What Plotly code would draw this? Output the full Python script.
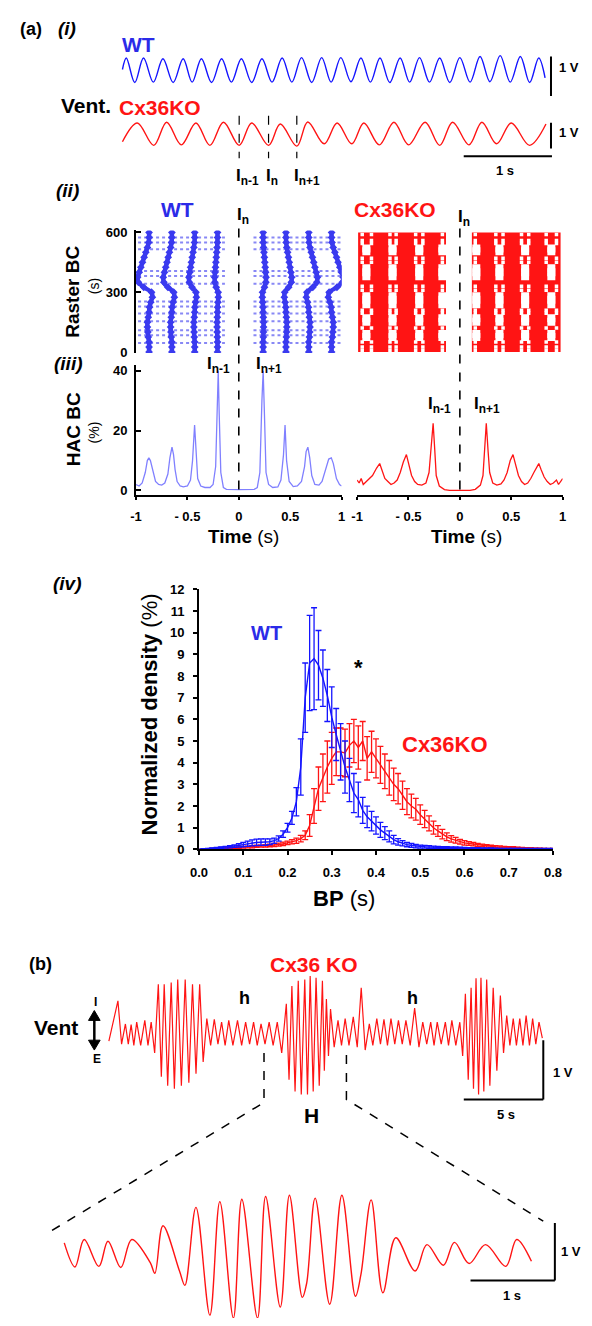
import plotly.graph_objects as go

W, H = 592, 1326
FONT = "Liberation Sans, Arial, Helvetica, sans-serif"
BLACK = "#000000"
BLUE = "#1414ff"
TEXT_BLUE = "#2b2be8"
RED = "#ff1414"
HAC_BLUE = "#8080ff"
RASTER_BLUE = "#3a3aef"

# ======================= DATA =======================
# (a)(i) ventral root traces: extrema (time s, volts)
wt_peak_t = [0.044, 0.239, 0.459, 0.688, 0.895, 1.124, 1.348, 1.581, 1.810, 2.030, 2.258,
             2.475, 2.703, 2.919, 3.147, 3.367, 3.596, 3.824, 4.053, 4.281, 4.510, 4.718]
wt_peak_v = [0.31, 0.31, 0.29, 0.29, 0.29, 0.29, 0.29, 0.29, 0.31, 0.32, 0.32,
             0.32, 0.31, 0.31, 0.31, 0.32, 0.31, 0.32, 0.35, 0.37, 0.35, 0.31]
wt_trough_t = [0.0, 0.14, 0.35, 0.575, 0.79, 1.01, 1.235, 1.465, 1.695, 1.92, 2.145, 2.365,
               2.59, 2.81, 3.03, 3.255, 3.48, 3.71, 3.94, 4.165, 4.395, 4.615, 4.79]
wt_trough_v = [0.02, -0.31, -0.30, -0.31, -0.30, -0.31, -0.30, -0.31, -0.30, -0.30, -0.31, -0.30,
               -0.29, -0.30, -0.31, -0.30, -0.30, -0.31, -0.30, -0.29, -0.30, -0.31, -0.19]

ko_peak_t = [0.168, 0.501, 0.833, 1.145, 1.465, 1.789, 2.10, 2.433, 2.736, 3.077, 3.43, 3.742, 4.074, 4.407]
ko_peak_v = [0.43, 0.46, 0.43, 0.46, 0.43, 0.39, 0.47, 0.43, 0.43, 0.46, 0.46, 0.46, 0.46, 0.43]
ko_trough_t = [0.0, 0.355, 0.667, 0.991, 1.323, 1.656, 1.976, 2.287, 2.599, 2.911, 3.243,
               3.596, 3.928, 4.240, 4.614, 4.80]
ko_trough_v = [-0.30, -0.44, -0.42, -0.44, -0.44, -0.44, -0.47, -0.38, -0.38, -0.42, -0.42,
               -0.44, -0.42, -0.38, -0.44, 0.39]
in_marks = [1.323, 1.656, 1.976]          # I(n-1), I(n), I(n+1)
in_labels = ["I<sub>n-1</sub>", "I<sub>n</sub>", "I<sub>n+1</sub>"]

# (ii) raster of burst cycles
raster_rows = [600, 575, 550, 525, 500, 475, 450, 425, 400, 375, 350, 325, 300,
               275, 250, 225, 200, 175, 150, 125, 100, 75, 50, 25, 0]
wt_period = [0.222, 0.222, 0.223, 0.226, 0.230, 0.234, 0.238, 0.242, 0.246, 0.250, 0.248, 0.235, 0.216,
             0.214, 0.218, 0.221, 0.222, 0.224, 0.226, 0.226, 0.225, 0.224, 0.222, 0.222, 0.222]
wt_band_k = [-4, -3, -2, -1, 1, 2, 3, 4]
wt_band_offset = 0.015
wt_streak_rows = [575, 550, 516, 407, 382, 342, 253, 228, 193, 154, 109, 84, 45]
wt_blocks = [[-0.98, -0.135], [0.143, 1.0]]

ko_blocks = [[-0.99, -0.135], [0.117, 0.98]]
ko_gap_t = [-0.91, -0.655, -0.395, -0.17, 0.16, 0.385, 0.635, 0.89]
ko_hole_rows = [520, 505, 420, 400, 380, 280, 262, 240, 170, 152, 90, 75]
ko_speck_t = [-0.95, -0.86, -0.68, -0.62, -0.43, -0.36, -0.17, 0.15, 0.35, 0.42, 0.60, 0.67, 0.84, 0.94]
ko_speck_rows = [590, 560, 545, 470, 450, 330, 310, 210, 195, 120, 50, 25, 8]

# (iii) HAC of burst cycles (%)
hac_wt_t = [-1.00, -0.97, -0.94, -0.91, -0.89, -0.875, -0.86, -0.84, -0.81, -0.78, -0.75, -0.72, -0.69,
            -0.67, -0.65, -0.635, -0.62, -0.60, -0.57, -0.54, -0.50, -0.47, -0.45, -0.43, -0.415,
            -0.40, -0.37, -0.33, -0.28, -0.25, -0.225, -0.21, -0.20, -0.19, -0.175, -0.15, -0.12,
            0.00, 0.15, 0.18, 0.205, 0.225, 0.237, 0.25, 0.265, 0.29, 0.33, 0.38, 0.41, 0.435,
            0.45, 0.465, 0.49, 0.53, 0.57, 0.61, 0.64, 0.655, 0.672, 0.69, 0.71, 0.74, 0.78,
            0.81, 0.85, 0.875, 0.90, 0.92, 0.95, 0.98, 1.00]
hac_wt_v = [2.0, 1.5, 2.5, 6.0, 10.0, 10.9, 10.0, 7.0, 3.0, 2.0, 1.8, 2.5, 5.5,
            11.0, 14.5, 12.0, 7.0, 3.0, 1.5, 1.2, 1.5, 3.5, 10.0, 21.9, 12.0,
            4.0, 1.5, 1.0, 1.0, 2.0, 8.0, 30.0, 39.9, 25.0, 6.0, 1.0, 0.4,
            0.3, 0.4, 1.0, 6.0, 30.0, 40.0, 25.0, 6.0, 2.0, 1.0, 1.2, 3.5, 12.0,
            21.9, 10.0, 3.0, 1.3, 1.5, 3.0, 8.0, 13.0, 14.5, 11.0, 5.0, 2.0, 1.8,
            3.0, 7.5, 10.5, 10.9, 9.0, 4.0, 2.0, 1.5]
hac_ko_t = [-1.00, -0.98, -0.96, -0.94, -0.91, -0.88, -0.85, -0.81, -0.78, -0.76, -0.73, -0.70, -0.67,
            -0.64, -0.61, -0.58, -0.55, -0.52, -0.50, -0.47, -0.44, -0.41, -0.37, -0.33, -0.30,
            -0.28, -0.26, -0.245, -0.23, -0.20, -0.15, -0.10, 0.00, 0.10, 0.15, 0.20, 0.225,
            0.24, 0.257, 0.275, 0.29, 0.32, 0.36, 0.40, 0.43, 0.46, 0.49, 0.517, 0.54, 0.57,
            0.60, 0.63, 0.66, 0.69, 0.72, 0.75, 0.768, 0.79, 0.82, 0.85, 0.88, 0.91, 0.94,
            0.96, 0.98, 1.00]
hac_ko_v = [3.5, 2.5, 4.0, 2.0, 3.0, 4.0, 5.0, 7.5, 9.0, 7.0, 4.0, 3.0, 2.0,
            2.5, 3.5, 6.0, 9.5, 12.0, 9.0, 5.0, 3.0, 2.0, 1.8, 2.5, 6.0,
            14.0, 22.5, 14.0, 5.0, 1.5, 0.3, 0.0, 0.0, 0.0, 0.4, 1.8, 5.0,
            14.0, 22.5, 13.0, 6.0, 2.5, 1.8, 2.2, 3.5, 6.0, 10.0, 12.0, 9.0, 5.0,
            3.0, 2.0, 2.5, 4.0, 6.0, 8.0, 9.0, 7.0, 4.5, 3.0, 2.0, 2.5, 3.5,
            2.0, 3.0, 4.0]

# (iv) burst period distribution (normalized density, %)
bp_bins = [round(i * 0.01, 2) for i in range(81)]
wt_mean = [0.00, 0.02, 0.03, 0.05, 0.06, 0.08, 0.10, 0.12, 0.15, 0.18,
           0.22, 0.26, 0.30, 0.32, 0.33, 0.33, 0.35, 0.40, 0.50, 0.70,
           1.00, 1.45, 2.20, 3.80, 7.00, 8.60, 8.80, 8.50, 7.90, 7.10,
           6.10, 5.30, 4.50, 3.80, 3.20, 2.60, 2.30, 1.80, 1.50, 1.30,
           1.10, 0.90, 0.75, 0.60, 0.45, 0.35, 0.28, 0.22, 0.18, 0.15,
           0.13, 0.12, 0.11, 0.10, 0.09, 0.08, 0.08, 0.07, 0.07, 0.06,
           0.06, 0.05, 0.05, 0.05, 0.04, 0.04, 0.04, 0.04, 0.03, 0.03,
           0.03, 0.03, 0.03, 0.03, 0.02, 0.02, 0.02, 0.02, 0.02, 0.02, 0.02]
wt_err = [0.00, 0.01, 0.02, 0.02, 0.03, 0.03, 0.04, 0.05, 0.06, 0.08,
          0.10, 0.12, 0.14, 0.15, 0.15, 0.15, 0.13, 0.12, 0.12, 0.15,
          0.20, 0.30, 0.65, 1.30, 1.60, 2.20, 2.35, 1.60, 1.30, 1.20,
          1.40, 1.20, 1.30, 1.20, 1.00, 0.90, 0.80, 0.60, 0.50, 0.45,
          0.40, 0.35, 0.30, 0.25, 0.20, 0.15, 0.12, 0.10, 0.09, 0.08,
          0.07, 0.06, 0.06, 0.05, 0.05, 0.05, 0.04, 0.04, 0.04, 0.04,
          0.03, 0.03, 0.03, 0.03, 0.03, 0.03, 0.03, 0.02, 0.02, 0.02,
          0.02, 0.02, 0.02, 0.02, 0.02, 0.02, 0.02, 0.02, 0.02, 0.02, 0.02]
ko_mean = [0.00, 0.01, 0.02, 0.03, 0.03, 0.04, 0.05, 0.06, 0.07, 0.08,
           0.10, 0.11, 0.12, 0.14, 0.15, 0.16, 0.18, 0.20, 0.22, 0.25,
           0.30, 0.35, 0.40, 0.50, 0.65, 1.10, 2.00, 2.80, 3.30, 3.80,
           4.20, 4.50, 4.50, 4.45, 4.80, 5.00, 4.70, 5.00, 4.20, 4.50,
           4.20, 3.90, 3.60, 3.30, 3.00, 2.80, 2.50, 2.20, 2.00, 1.85,
           1.60, 1.40, 1.20, 1.00, 0.85, 0.70, 0.58, 0.48, 0.42, 0.35,
           0.30, 0.27, 0.24, 0.21, 0.18, 0.16, 0.14, 0.12, 0.11, 0.10,
           0.09, 0.08, 0.07, 0.06, 0.05, 0.05, 0.04, 0.04, 0.03, 0.03, 0.03]
ko_err = [0.00, 0.01, 0.01, 0.02, 0.02, 0.02, 0.02, 0.03, 0.03, 0.03,
          0.04, 0.04, 0.05, 0.05, 0.05, 0.06, 0.06, 0.07, 0.07, 0.08,
          0.08, 0.10, 0.12, 0.15, 0.20, 0.50, 0.80, 1.00, 1.10, 1.20,
          1.20, 1.10, 1.10, 1.10, 1.00, 1.00, 1.00, 0.90, 1.00, 0.95,
          0.90, 0.85, 0.80, 0.80, 0.75, 0.70, 0.65, 0.60, 0.55, 0.50,
          0.45, 0.40, 0.35, 0.30, 0.25, 0.22, 0.18, 0.15, 0.13, 0.11,
          0.10, 0.09, 0.08, 0.07, 0.06, 0.06, 0.05, 0.05, 0.05, 0.04,
          0.04, 0.04, 0.03, 0.03, 0.03, 0.03, 0.02, 0.02, 0.02, 0.02, 0.02]

# (b) Cx36 KO ventral trace (overview): extrema (s, V)
b_peak_t = [0.57, 1.04, 1.40, 1.75, 2.26, 2.66, 3.11, 3.48, 3.92, 4.33, 4.80, 5.26, 5.71,
            6.16, 6.63, 7.09, 7.54, 8.09, 8.60, 9.10, 9.57, 10.08, 10.59, 11.16, 11.51,
            11.91, 12.32, 12.66, 13.03, 13.43, 13.68, 13.94, 14.41, 14.86, 15.37, 15.87,
            16.38, 16.85, 17.30, 17.74, 18.21, 18.68, 19.23, 19.74, 20.24, 20.65, 21.16,
            21.57, 22.07, 22.42, 22.78, 23.09, 23.40, 23.76, 24.17, 24.62, 25.02, 25.43,
            25.84, 26.24, 26.65, 27.05]
b_peak_v = [0.58, 0.19, 0.18, 0.22, 0.25, 0.22, 0.86, 0.86, 0.89, 0.94, 0.94, 0.86, 0.86,
            0.28, 0.27, 0.22, 0.25, 0.25, 0.22, 0.22, 0.19, 0.22, 0.22, 0.53, 0.83,
            0.92, 0.94, 1.00, 0.97, 0.92, 0.61, 0.44, 0.25, 0.28, 0.31, 0.80,
            0.19, 0.28, 0.27, 0.28, 0.25, 0.25, 0.46, 0.22, 0.22, 0.22, 0.22,
            0.25, 0.22, 0.70, 0.80, 0.96, 0.97, 0.94, 0.80, 0.67, 0.33, 0.28,
            0.28, 0.33, 0.28, 0.22]
b_trough_t = [0.0, 0.80, 1.22, 1.57, 2.00, 2.46, 2.88, 3.30, 3.70, 4.12, 4.56, 5.03, 5.48,
              5.93, 6.40, 6.86, 7.31, 7.80, 8.35, 8.85, 9.33, 9.82, 10.33, 10.87, 11.33,
              11.71, 12.10, 12.49, 12.85, 13.23, 13.55, 13.81, 14.17, 14.63, 15.10, 15.62,
              16.12, 16.60, 17.08, 17.52, 17.98, 18.45, 18.95, 19.50, 19.99, 20.45, 20.90,
              21.36, 21.82, 22.25, 22.60, 22.93, 23.25, 23.58, 23.96, 24.40, 24.82, 25.22,
              25.63, 26.04, 26.45, 26.85, 27.26]
b_trough_v = [-0.10, -0.15, -0.15, -0.17, -0.17, -0.17, -0.30, -0.70, -0.85, -0.90, -0.85, -0.80, -0.65,
              -0.45, -0.17, -0.15, -0.17, -0.17, -0.17, -0.15, -0.17, -0.15, -0.17, -0.30, -0.75,
              -0.95, -1.00, -1.00, -0.95, -0.85, -0.60, -0.35, -0.20, -0.17, -0.17, -0.20,
              -0.25, -0.17, -0.15, -0.17, -0.15, -0.15, -0.17, -0.20, -0.15, -0.17, -0.15,
              -0.17, -0.17, -0.35, -0.75, -0.90, -1.00, -0.95, -0.85, -0.60, -0.30, -0.17,
              -0.17, -0.17, -0.17, -0.15, -0.05]

# (b) expanded H episode: extrema (s, V)
h_t = [0.0, 0.127, 0.236, 0.41, 0.518, 0.67, 0.80, 1.018, 1.074, 1.17, 1.366, 1.43, 1.561,
       1.726, 1.844, 2.005, 2.105, 2.291, 2.387, 2.561, 2.669, 2.822, 2.874, 2.974, 3.147,
       3.291, 3.452, 3.517, 3.638, 3.777, 3.930, 4.160, 4.299, 4.494, 4.625, 4.799, 4.994,
       5.233, 5.363, 5.538]
h_v = [0.12, -0.30, 0.18, -0.29, 0.15, -0.31, 0.18, -0.22, -0.41, 0.42, -0.37, -0.62, 0.74,
       -1.14, 0.84, -1.19, 0.88, -1.19, 0.93, -1.00, 0.95, -0.83, -0.58, 0.90, -0.95,
       0.95, -0.81, -0.43, 0.87, -0.75, 0.21, -0.37, 0.09, -0.27, 0.13, -0.24, 0.09,
       -0.29, 0.18, -0.20]


# ======================= HELPERS =======================
def xp(px):
    return px / W


def yp(py):
    return 1 - py / H


def merge(t1, v1, t2, v2):
    pts = sorted(zip(list(t1) + list(t2), list(v1) + list(v2)))
    return [p[0] for p in pts], [p[1] for p in pts]


fig = go.Figure()
layout = dict(
    width=W, height=H, margin=dict(l=0, r=0, t=0, b=0),
    paper_bgcolor="white", plot_bgcolor="rgba(0,0,0,0)",
    showlegend=False, font=dict(family=FONT, color=BLACK),
)

TICKFONT = dict(family=FONT, size=13, color=BLACK, weight="bold")


def add_axes(n, xpx, ypx, xr, yr, xextra=None, yextra=None):
    s = "" if n == 1 else str(n)
    xa = dict(domain=[xp(xpx[0]), xp(xpx[1])], range=xr, visible=False,
              anchor="y" + s, showgrid=False, zeroline=False, fixedrange=True)
    ya = dict(domain=[yp(ypx[1]), yp(ypx[0])], range=yr, visible=False,
              anchor="x" + s, showgrid=False, zeroline=False, fixedrange=True)
    if xextra:
        xa.update(xextra)
    if yextra:
        ya.update(yextra)
    layout["xaxis" + s] = xa
    layout["yaxis" + s] = ya
    return "x" + s, "y" + s


AXSTYLE = dict(visible=True, showline=True, linecolor=BLACK, linewidth=2,
               ticks="outside", tickcolor=BLACK, tickwidth=2, ticklen=4,
               tickfont=TICKFONT)

# ---- axes ----
ax1 = add_axes(1, (110, 565), (40, 95), [(110 - 117) / 91, (565 - 117) / 91], [-0.775, 0.6])
ax2 = add_axes(2, (110, 565), (105, 160), [(110 - 117) / 91, (565 - 117) / 91],
               [(128.5 - 160) / 26, (128.5 - 105) / 26])
ax3 = add_axes(3, (131, 343), (226, 350), [-1, 1], [-5, 610],
               yextra=dict(AXSTYLE, ticks="inside", ticklen=5, tickvals=[0, 300, 600],
                           ticklabelstandoff=4))
ax4 = add_axes(4, (359, 571), (226, 350), [-1, 1], [-5, 610])
hac_x = dict(AXSTYLE, tickvals=[-1, -0.5, 0, 0.5, 1],
             ticktext=["-1", "- 0.5", "0", "0.5", "1"], ticklen=3, ticklabelstandoff=5)
ax5 = add_axes(5, (131, 343), (362, 494), [-1, 1], [-1.65, 42], xextra=hac_x,
               yextra=dict(AXSTYLE, ticks="inside", ticklen=5, tickvals=[0, 20, 40],
                           ticklabelstandoff=4))
ax6 = add_axes(6, (359, 571), (362, 494), [-1, 1], [-1.65, 42], xextra=hac_x)
ax7 = add_axes(7, (196, 561), (589, 852), [0, 0.8], [0, 12],
               xextra=dict(AXSTYLE, tickvals=[round(0.1 * i, 1) for i in range(9)],
                           tickformat=".1f", ticklabelstandoff=6),
               yextra=dict(AXSTYLE, tickvals=list(range(13)), ticklabelstandoff=6))
ax8 = add_axes(8, (100, 556), (975, 1110), [(100 - 103) / 16.4, (556 - 103) / 16.4],
               [(1040 - 1110) / 60, (1040 - 975) / 60])
ax9 = add_axes(9, (50, 575), (1190, 1326), [(50 - 57) / 87, (575 - 57) / 87],
               [(1257 - 1326) / 58, (1257 - 1190) / 58])


def tr(ax, **kw):
    fig.add_trace(go.Scatter(xaxis=ax[0], yaxis=ax[1], hoverinfo="skip", **kw))


# ---- (a)(i) traces ----
t, v = merge(wt_peak_t, wt_peak_v, wt_trough_t, wt_trough_v)
tr(ax1, x=t, y=v, mode="lines", line=dict(color=BLUE, width=1.4, shape="spline", smoothing=1.0))
t, v = merge(ko_peak_t, ko_peak_v, ko_trough_t, ko_trough_v)
tr(ax2, x=t, y=v, mode="lines", line=dict(color=RED, width=1.4, shape="spline", smoothing=1.0))

# ---- (ii) rasters ----
sx, sy = [], []
for r in wt_streak_rows:
    for b in wt_blocks:
        sx += [b[0], b[1], None]
        sy += [r, r, None]
tr(ax3, x=sx, y=sy, mode="lines", opacity=0.6,
   line=dict(color=RASTER_BLUE, width=2, dash="dot"))
for k in wt_band_k:
    xs = [k * p + wt_band_offset for p in wt_period]
    tr(ax3, x=xs, y=raster_rows, mode="lines+markers",
       line=dict(color=RASTER_BLUE, width=4.5, shape="spline", smoothing=0.8),
       marker=dict(color=RASTER_BLUE, size=6, symbol="diamond"))

for b in ko_blocks:
    tr(ax4, x=[b[0], b[1], b[1], b[0], b[0]], y=[0, 0, 600, 600, 0], mode="lines",
       fill="toself", fillcolor=RED, line=dict(width=0, color=RED))
hx, hy = [], []
for g in ko_gap_t:
    for r in ko_hole_rows:
        hx.append(g)
        hy.append(r)
tr(ax4, x=hx, y=hy, mode="markers", marker=dict(symbol="square", size=8, color="white"))
qx, qy = [], []
for g in ko_speck_t:
    for r in ko_speck_rows:
        qx.append(g)
        qy.append(r)
tr(ax4, x=qx, y=qy, mode="markers", marker=dict(symbol="square", size=3.5, color="white"))

# ---- (iii) HAC ----
tr(ax5, x=hac_wt_t, y=hac_wt_v, mode="lines", line=dict(color=HAC_BLUE, width=1.3))
tr(ax6, x=hac_ko_t, y=hac_ko_v, mode="lines", line=dict(color=RED, width=1.3))

# ---- (iv) BP density ----
tr(ax7, x=bp_bins, y=ko_mean, mode="lines", line=dict(color=RED, width=1.4),
   error_y=dict(type="data", array=ko_err, color=RED, thickness=1.3, width=3))
tr(ax7, x=bp_bins, y=wt_mean, mode="lines", line=dict(color=BLUE, width=1.4),
   error_y=dict(type="data", array=wt_err, color=BLUE, thickness=1.3, width=3))

# ---- (b) traces ----
t, v = merge(b_peak_t, b_peak_v, b_trough_t, b_trough_v)
tr(ax8, x=t, y=v, mode="lines", line=dict(color=RED, width=1.2))
tr(ax9, x=h_t, y=h_v, mode="lines", line=dict(color=RED, width=1.4, shape="spline", smoothing=1.0))

# ======================= SHAPES =======================
shapes = []


def sline(xref, yref, x0, y0, x1, y1, width=2, dash="solid", color=BLACK):
    shapes.append(dict(type="line", xref=xref, yref=yref, x0=x0, y0=y0, x1=x1, y1=y1,
                       line=dict(color=color, width=width, dash=dash)))


def ppath(points, close=False, fill=None, width=1.5, dash="solid"):
    d = "M " + " L ".join(f"{xp(a):.5f},{yp(b):.5f}" for a, b in points)
    if close:
        d += " Z"
    sh = dict(type="path", xref="paper", yref="paper", path=d,
              line=dict(color=BLACK, width=width, dash=dash))
    if fill:
        sh["fillcolor"] = fill
    shapes.append(sh)


# scale bars (a)(i)
sline("x", "y", 4.857, 0.35, 4.857, -0.65)
sline("x2", "y2", 4.857, 0.44, 4.857, -0.56)
sline("x2", "y2", 3.868, -0.865, 4.868, -0.865)
for m in in_marks:
    sline("x2", "y2", m, 0.71, m, -0.94, width=1.2, dash="dash")
# I_n dashed lines through raster + HAC
sline("x5", "paper", 0, yp(224), 0, yp(491), width=1.6, dash="dash")
sline("x6", "paper", 0, yp(224), 0, yp(491), width=1.6, dash="dash")
# (b) scale bars
sline("x8", "y8", 27.32, -0.083, 27.32, -1.083)
sline("x8", "y8", 22.32, -1.083, 27.32, -1.083)
sline("x9", "y9", 5.816, 0.4655, 5.816, -0.5345)
sline("x9", "y9", 4.816, -0.5345, 5.816, -0.5345)
# (b) zoom connectors
ppath([(263, 1058), (263, 1108), (40, 1240)], dash="dash")
ppath([(348, 1060), (348, 1105), (551, 1228)], dash="dash")
# Vent double-headed arrow (I up / E down)
ppath([(88, 1022), (88, 1048)], width=2.5)
ppath([(82, 1025), (94, 1025), (88, 1015)], close=True, fill=BLACK, width=1)
ppath([(82, 1045), (94, 1045), (88, 1055)], close=True, fill=BLACK, width=1)
layout["shapes"] = shapes

# ======================= TEXT =======================
ann = []


def txt(x, y, text, size, color=BLACK, xanchor="center", angle=0, xref="paper", xshift=0):
    ann.append(dict(x=xp(x) if xref == "paper" else x, y=yp(y), xref=xref, yref="paper",
                    text=text, showarrow=False, xanchor=xanchor, yanchor="middle",
                    textangle=angle, xshift=xshift,
                    font=dict(family=FONT, size=size, color=color)))


txt(23, 22, "<b>(a)</b>", 18)
txt(60, 22, "<b><i>(i)</i></b>", 19)
txt(134, 38, "<b>WT</b>", 21, TEXT_BLUE)
txt(79, 100, "<b>Vent.</b>", 21)
txt(156, 102, "<b>Cx36KO</b>", 21, RED)
txt(578, 61, "<b>1 V</b>", 13)
txt(578, 127, "<b>1 V</b>", 13)
txt(512, 165, "<b>1 s</b>", 13)
for m, lab in zip(in_marks, in_labels):
    txt(m, 172, "<b>" + lab + "</b>", 17, xanchor="left", xref="x2", xshift=-5)

txt(60, 186, "<b><i>(ii)</i></b>", 19)
txt(174, 205, "<b>WT</b>", 21, TEXT_BLUE)
txt(398, 205, "<b>Cx36KO</b>", 21, RED)
txt(0, 211, "<b>I<sub>n</sub></b>", 17, xanchor="left", xref="x3", xshift=-4)
txt(0, 213, "<b>I<sub>n</sub></b>", 17, xanchor="left", xref="x4", xshift=-4)
txt(66, 288, "<b>Raster BC</b>", 19, angle=-90)
txt(87, 282, "(s)", 14, angle=-90)

txt(61, 361, "<b><i>(iii)</i></b>", 19)
txt(66, 427, "<b>HAC BC</b>", 19, angle=-90)
txt(88, 430, "(%)", 14, angle=-90)
txt(-0.2, 362, "<b>I<sub>n-1</sub></b>", 17, xref="x5")
txt(0.29, 362, "<b>I<sub>n+1</sub></b>", 17, xref="x5")
txt(-0.2, 403, "<b>I<sub>n-1</sub></b>", 17, xref="x6")
txt(0.26, 403, "<b>I<sub>n+1</sub></b>", 17, xref="x6")
txt(242, 536, "<b>Time</b> (s)", 19)
txt(472, 536, "<b>Time</b> (s)", 19)

txt(60, 583, "<b><i>(iv)</i></b>", 19)
txt(145, 716, "<b>Normalized density</b> (%)", 22, angle=-90)
txt(266, 633, "<b>WT</b>", 20, TEXT_BLUE)
txt(360, 668, "<b>*</b>", 22)
txt(450, 746, "<b>Cx36KO</b>", 22, RED)
txt(346, 902, "<b>BP</b> (s)", 22)

txt(32, 968, "<b>(b)</b>", 18)
txt(315, 968, "<b>Cx36 KO</b>", 21, RED)
txt(243, 1002, "<b>h</b>", 18)
txt(416, 1002, "<b>h</b>", 18)
txt(48, 1032, "<b>Vent</b>", 21)
txt(89, 1006, "<b>I</b>", 12)
txt(91, 1064, "<b>E</b>", 12)
txt(312, 1121, "<b>H</b>", 21)
txt(571, 1078, "<b>1 V</b>", 13)
txt(513, 1120, "<b>5 s</b>", 13)
txt(580, 1259, "<b>1 V</b>", 13)
txt(519, 1303, "<b>1 s</b>", 13)

layout["annotations"] = ann
fig.update_layout(**layout)
fig.write_html("out.html")
